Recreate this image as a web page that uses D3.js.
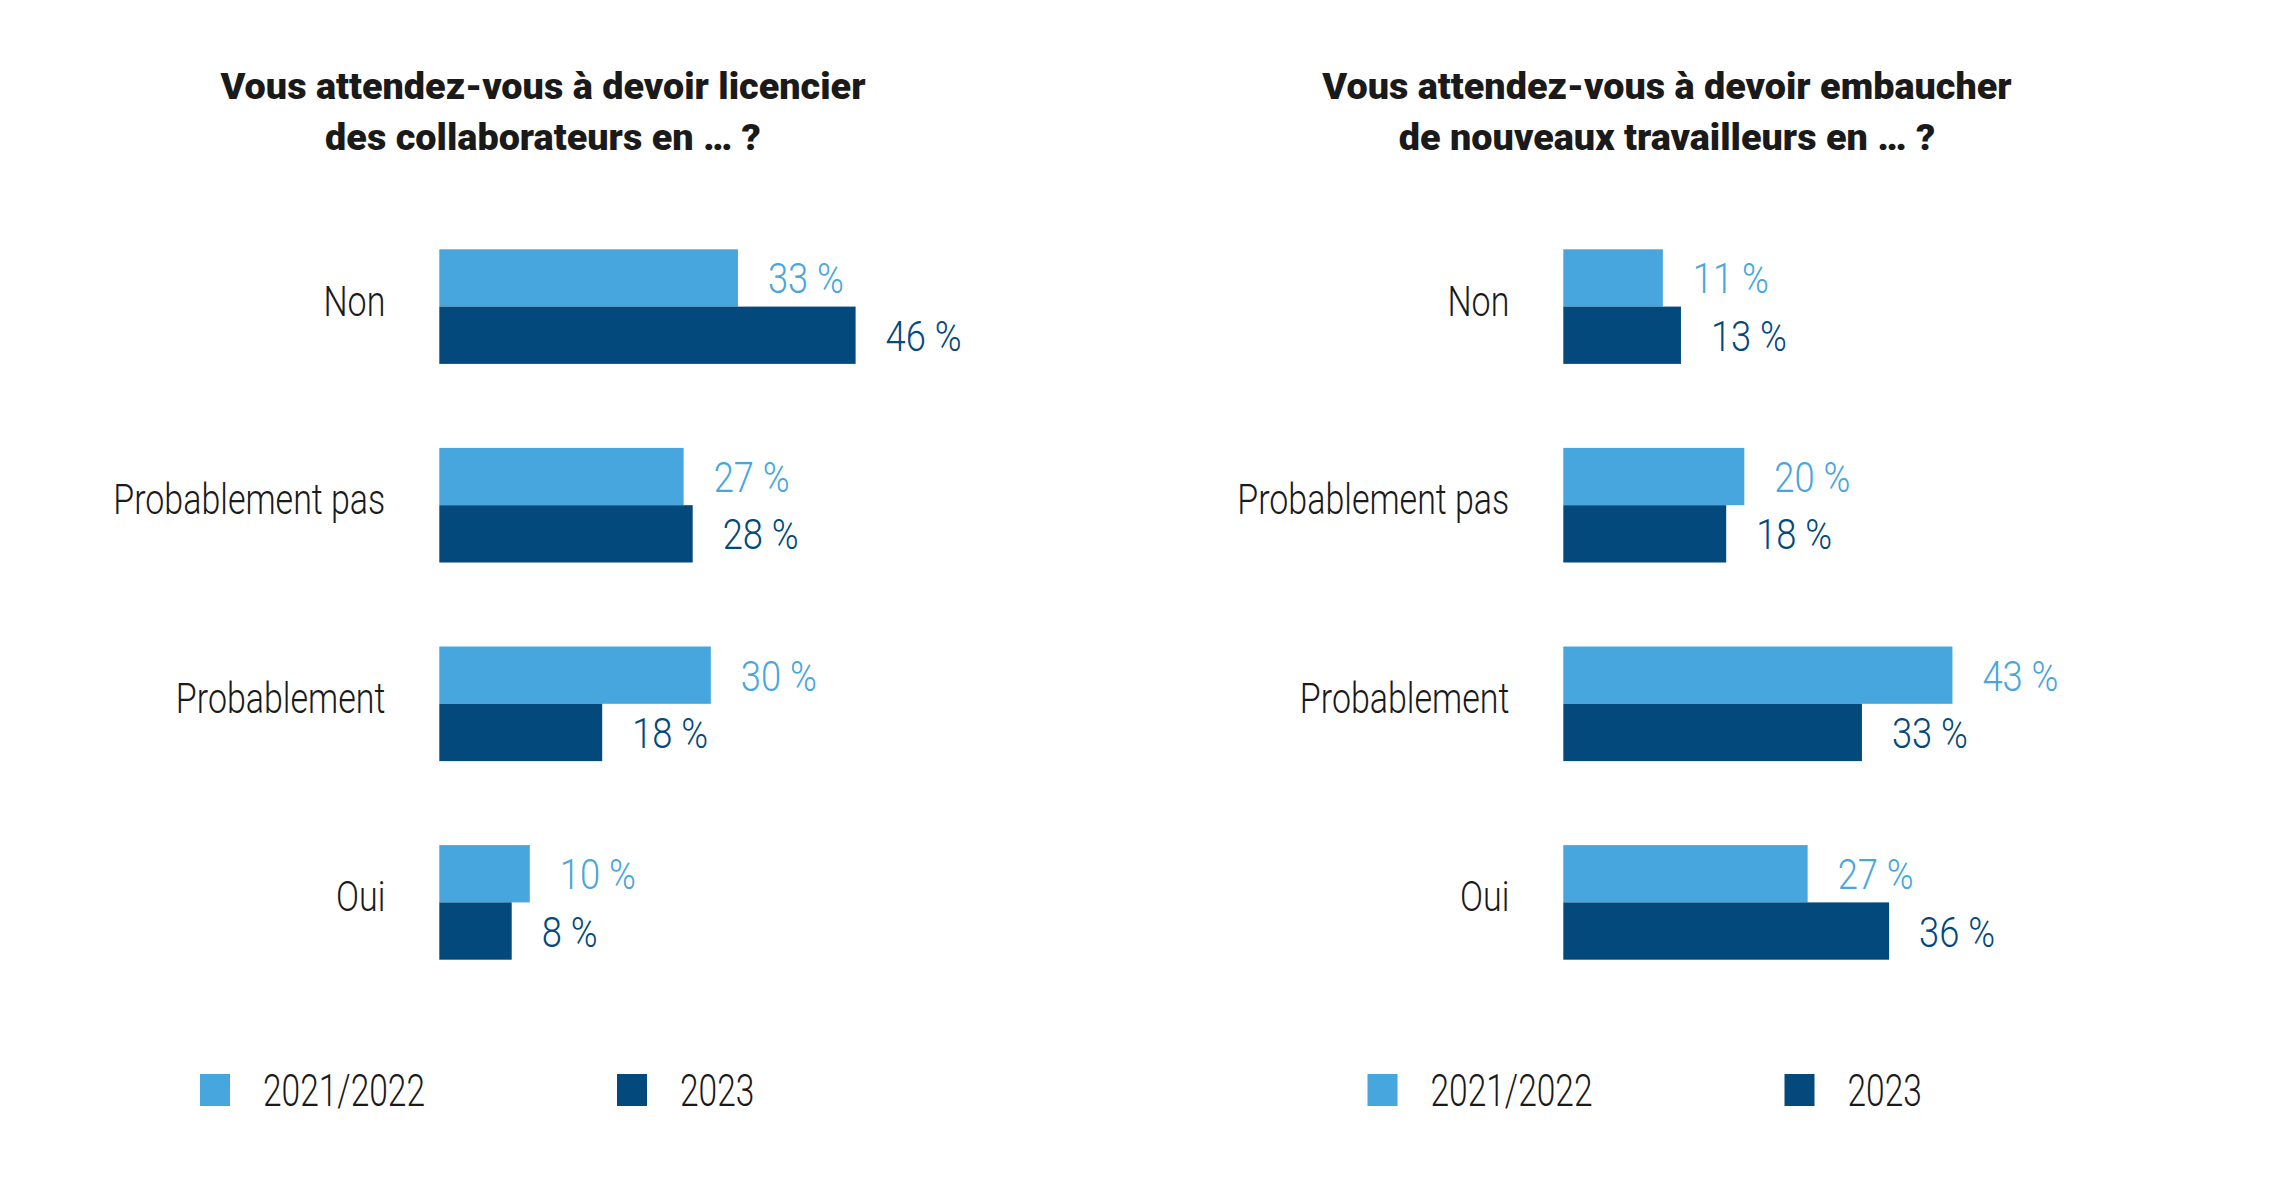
<!DOCTYPE html>
<html>
<head>
<meta charset="utf-8">
<script src="https://cdn.jsdelivr.net/npm/d3@7"></script>
<style>
  html, body { margin: 0; padding: 0; background: #ffffff; }
  svg { display: block; }
</style>
</head>
<body>
<script>
// ---- data ----
const categories = ["Non", "Probablement pas", "Probablement", "Oui"];
const seriesNames = ["2021/2022", "2023"];
const licencier2122 = [33, 27, 30, 10];
const licencier2023 = [46, 28, 18, 8];
const embaucher2122 = [11, 20, 43, 27];
const embaucher2023 = [13, 18, 33, 36];
const titlesLicencier = ["Vous attendez-vous à devoir licencier", "des collaborateurs en … ?"];
const titlesEmbaucher = ["Vous attendez-vous à devoir embaucher", "de nouveaux travailleurs en … ?"];

// ---- layout / style ----
const W = 2275, H = 1197;
const colors = { "2021/2022": "#48A6DE", "2023": "#03497C" };
const FONT = "Roboto, 'Liberation Sans', sans-serif";

const svg = d3.select("body").append("svg")
  .attr("width", W).attr("height", H)
  .attr("viewBox", `0 0 ${W} ${H}`);

// helper to measure a string in a given style
function measure(txt, size, weight) {
  const t = svg.append("text").style("font-family", FONT)
    .style("font-size", size + "px").style("font-weight", weight).text(txt);
  const w = t.node().getComputedTextLength();
  t.remove();
  return w;
}
const LABEL_SIZE = 43, VALUE_SIZE = 43, TITLE_SIZE = 37, LEGEND_SIZE = 44;
const TITLE_WEIGHT = 900;
const kLabel = 272 / measure("Probablement pas", LABEL_SIZE, 300);
const kValue = 76 / measure("33 %", VALUE_SIZE, 300);
const kTitle = 645 / measure(titlesLicencier[0], TITLE_SIZE, TITLE_WEIGHT);
const kLegend = 162 / measure("2021/2022", LEGEND_SIZE, 300);

function condense(sel, k) {
  sel.each(function () {
    const w = this.getComputedTextLength();
    this.setAttribute("textLength", (w * k).toFixed(2));
    this.setAttribute("lengthAdjust", "spacingAndGlyphs");
  });
}

const panels = [
  { titles: titlesLicencier, a: licencier2122, b: licencier2023, x0: 439.3, titleX: 543, legendX: 200 },
  { titles: titlesEmbaucher, a: embaucher2122, b: embaucher2023, x0: 1563.3, titleX: 1667, legendX: 1367.5 }
];

const y = d3.scaleBand().domain(categories).range([249.3, 959.7]).paddingInner(0.423).paddingOuter(0);
const ySub = d3.scaleBand().domain(seriesNames).range([0, y.bandwidth()]).padding(0);
const x = d3.scaleLinear().domain([0, 50]).range([0, 452.5]);

panels.forEach(p => {
  const g = svg.append("g").attr("transform", `translate(${p.x0},0)`);

  // title
  const tt = svg.selectAll(null).data(p.titles).join("text")
    .attr("x", p.titleX).attr("y", (d, i) => 99 + i * 51)
    .attr("text-anchor", "middle")
    .style("font-family", FONT).style("font-weight", TITLE_WEIGHT)
    .style("font-size", TITLE_SIZE + "px").attr("fill", "#1a1a1a")
    .text(d => d);
  condense(tt, kTitle);

  // rows
  const rows = categories.map((c, i) => ({ cat: c, vals: [
    { s: seriesNames[0], v: p.a[i] },
    { s: seriesNames[1], v: p.b[i] }
  ]}));

  const rowG = g.selectAll("g.row").data(rows).join("g")
    .attr("class", "row")
    .attr("transform", d => `translate(0,${y(d.cat)})`);

  const cl = rowG.append("text")
    .attr("x", -54).attr("y", y.bandwidth() / 2 + 9)
    .attr("text-anchor", "end")
    .style("font-family", FONT).style("font-size", LABEL_SIZE + "px").style("font-weight", 300)
    .attr("fill", "#1a1a1a")
    .text(d => d.cat);
  condense(cl, kLabel);

  rowG.selectAll("rect").data(d => d.vals).join("rect")
    .attr("x", 0)
    .attr("y", d => ySub(d.s))
    .attr("width", d => x(d.v))
    .attr("height", ySub.bandwidth())
    .attr("fill", d => colors[d.s]);

  const vl = rowG.selectAll("text.val").data(d => d.vals).join("text")
    .attr("class", "val")
    .attr("x", d => x(d.v) + 30)
    .attr("y", d => ySub(d.s) + ySub.bandwidth() / 2 + 15.5)
    .style("font-family", FONT).style("font-size", VALUE_SIZE + "px").style("font-weight", 300)
    .attr("fill", d => colors[d.s])
    .text(d => d.v + " %");
  condense(vl, kValue);

  // legend
  const lg = svg.append("g").attr("transform", `translate(${p.legendX},1074)`);
  const item = lg.selectAll("g").data(seriesNames).join("g")
    .attr("transform", (d, i) => `translate(${i * 417},0)`);
  item.append("rect").attr("width", 30).attr("height", 32).attr("fill", d => colors[d]);
  const lt = item.append("text").attr("x", 63).attr("y", 32)
    .style("font-family", FONT).style("font-size", LEGEND_SIZE + "px").style("font-weight", 300)
    .attr("fill", "#1a1a1a").text(d => d);
  condense(lt, kLegend);
});
</script>
</body>
</html>
